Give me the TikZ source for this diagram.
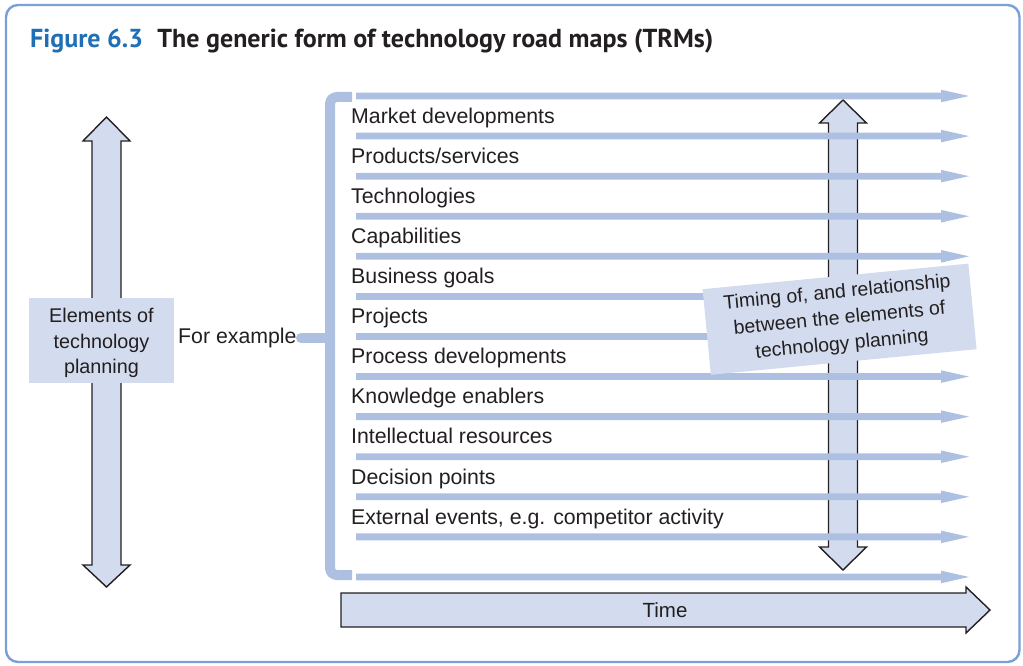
\documentclass[tikz,border=0pt]{standalone}
\usepackage{fontspec}
\setmainfont{Liberation Sans}
\newfontfamily\titlefont{PT Sans}
\definecolor{frameblue}{HTML}{7BA0D8}
\definecolor{barblue}{HTML}{ADC0E2}
\definecolor{lightfill}{HTML}{D3DCEF}
\definecolor{titleblue}{HTML}{1F6FB6}
\definecolor{inkc}{HTML}{231F20}
\tikzset{
  barfill/.style={fill=barblue},
  bigarrow/.style={fill=lightfill, draw=inkc, line width=1.4pt, line join=miter},
  lbl/.style={anchor=base west, inner sep=0pt, text=inkc, font=\fontsize{21.3}{25}\selectfont},
  shadebox/.style={fill=lightfill, inner sep=0pt, text=inkc, align=center}
}
\begin{document}
\begin{tikzpicture}[x=1pt,y=-1pt]
\useasboundingbox (0,0) rectangle (1023,666);
% frame
\draw[frameblue, line width=2.4pt, rounded corners=12pt] (6,5) rectangle (1019.5,662);
% title
\node[anchor=base west, inner sep=0pt, font=\titlefont\bfseries\fontsize{26}{30}\selectfont] (title) at (30,48)
  {\textcolor{titleblue}{Figure 6.3}\hspace{0.55em}\textcolor{inkc}{The generic form of technology road maps (TRMs)}};
% left double arrow
\draw[bigarrow] (106.5,117) -- (130,141) -- (121,141) -- (121,565) -- (130,565) -- (106.5,587)
  -- (83,565) -- (92,565) -- (92,141) -- (83,141) -- cycle;
% right double arrow
\draw[bigarrow] (843,100) -- (866.5,123) -- (857.5,123) -- (857.5,547) -- (866.5,547) -- (843,570)
  -- (819.5,547) -- (828.5,547) -- (828.5,123) -- (819.5,123) -- cycle;
% time arrow
\draw[bigarrow] (341,593) -- (966,593) -- (966,587) -- (990,610) -- (966,633) -- (966,627) -- (341,627) -- cycle;
\node[inner sep=0pt, text=inkc, font=\fontsize{20.5}{24}\selectfont] (time) at (665,610) {Time};
% bracket
\draw[barblue, line width=10pt, rounded corners=7pt] (352,97) -- (330,97) -- (330,575) -- (352,575);
\draw[barblue, line width=10pt, line cap=round] (301,338) -- (330,338);
% bars
\foreach \k in {0,...,12} {
  \pgfmathsetmacro{\yy}{96+40.08*\k}
  \fill[barfill] (356,\yy-3.4) -- (941,\yy-3.4) -- (941,\yy-6.3) -- (969,\yy) -- (941,\yy+6.3)
    -- (941,\yy+3.4) -- (356,\yy+3.4) -- cycle;
}
% list labels
\foreach \t [count=\i from 0] in {Market developments,Products/services,Technologies,Capabilities,Business goals,Projects,Process developments,Knowledge enablers,Intellectual resources,Decision points,{External events, e.g. competitor activity}} {
  \node[lbl] (item\i) at (351,{123.3+40.08*\i}) {\t};
}
% left label box
\node[shadebox, minimum width=145pt, minimum height=85pt] (elements) at (101.5,340.5) {};
\node[inner sep=0pt, text=inkc, align=center, font=\fontsize{19.8}{25.8}\selectfont] (elementstext) at (101.5,343)
  {Elements of\\technology\\planning};
\node[lbl] (forex) at (178,343) {For example};
% rotated box
\node[shadebox, rotate=5.5, minimum width=267pt, minimum height=86pt, font=\fontsize{19.5}{26}\selectfont] (timing) at (839.6,319.2)
  {Timing of, and relationship\\between the elements of\\technology planning};
\end{tikzpicture}
\end{document}
